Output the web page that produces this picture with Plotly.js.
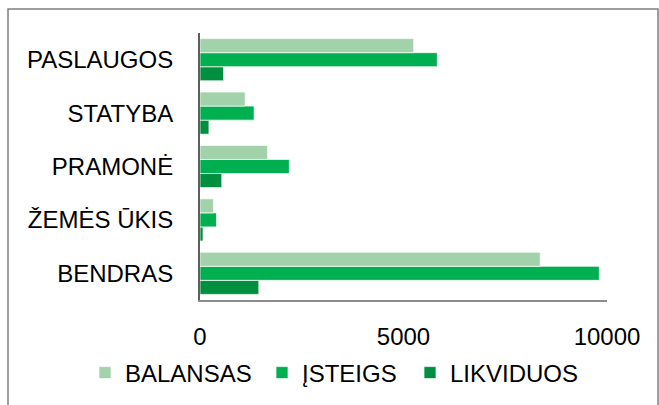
<!DOCTYPE html>
<html>
<head>
<meta charset="utf-8">
<script src="https://cdn.plot.ly/plotly-3.0.1.min.js"></script>
<style>html,body{margin:0;padding:0;background:#fff;}#chart{width:659px;height:405px;}</style>
</head>
<body>
<div id="chart"></div>
<script>
const categories = ["BENDRAS", "ŽEMĖS ŪKIS", "PRAMONĖ", "STATYBA", "PASLAUGOS"];
const balansas = [8360, 330, 1660, 1110, 5250];
const isteigs = [9810, 405, 2195, 1330, 5830];
const likviduos = [1445, 75, 535, 220, 580];
const xTicks = [0, 5000, 10000];

const FONT = "'Liberation Sans', Arial, sans-serif";
const FS = 24;
const edge = {color: "rgba(255,255,255,0.7)", width: 1};

const traces = [
  {type: "bar", orientation: "h", name: "LIKVIDUOS", y: categories, x: likviduos, legend: "legend3",
   marker: {color: "#008f3e", line: edge}},
  {type: "bar", orientation: "h", name: "ĮSTEIGS", y: categories, x: isteigs, legend: "legend2",
   marker: {color: "#00b050", line: edge}},
  {type: "bar", orientation: "h", name: "BALANSAS", y: categories, x: balansas, legend: "legend",
   marker: {color: "#a2d2aa", line: edge}}
];

const L = 200, R = 52, T = 33, B = 105, W = 659 - L - R, H = 405 - T - B;
const px = v => (v - L) / W;
const py = v => (405 - B - v) / H;

function leg(xPix) {
  return {orientation: "h", xref: "container", x: xPix / 659, xanchor: "left",
          yref: "container", y: 1 - 373 / 405, yanchor: "middle",
          font: {family: FONT, size: FS, color: "#000"}, itemwidth: 30,
          bgcolor: "rgba(0,0,0,0)", borderwidth: 0};
}

const layout = {
  width: 659, height: 405,
  margin: {l: L, r: R, t: T, b: B, pad: 0},
  paper_bgcolor: "#fff", plot_bgcolor: "#fff",
  font: {family: FONT, size: FS, color: "#000"},
  barmode: "group", bargap: 0.21, bargroupgap: 0,
  showlegend: true,
  legend: leg(85), legend2: leg(262), legend3: leg(410),
  xaxis: {range: [0, 10000], tickvals: xTicks, ticktext: xTicks.map(String), showgrid: false, zeroline: false,
          showline: true, linecolor: "#8c8c8c", linewidth: 2, ticks: "", ticklabelstandoff: 14,
          tickfont: {family: FONT, size: FS, color: "#000"}, fixedrange: true},
  yaxis: {type: "category", categoryorder: "array", categoryarray: categories, showgrid: false, zeroline: false,
          showline: true, linecolor: "#5f5f5f", linewidth: 2, ticks: "", ticklabelstandoff: 20,
          tickfont: {family: FONT, size: FS, color: "#000"}, fixedrange: true},
  shapes: [{type: "rect", xref: "paper", yref: "paper", x0: px(8), x1: px(658), y0: py(420), y1: py(9),
            line: {color: "#7f7f7f", width: 1.5}, fillcolor: "rgba(0,0,0,0)", layer: "below"}]
};

Plotly.newPlot("chart", traces, layout, {staticPlot: true, displayModeBar: false});
</script>
</body>
</html>
